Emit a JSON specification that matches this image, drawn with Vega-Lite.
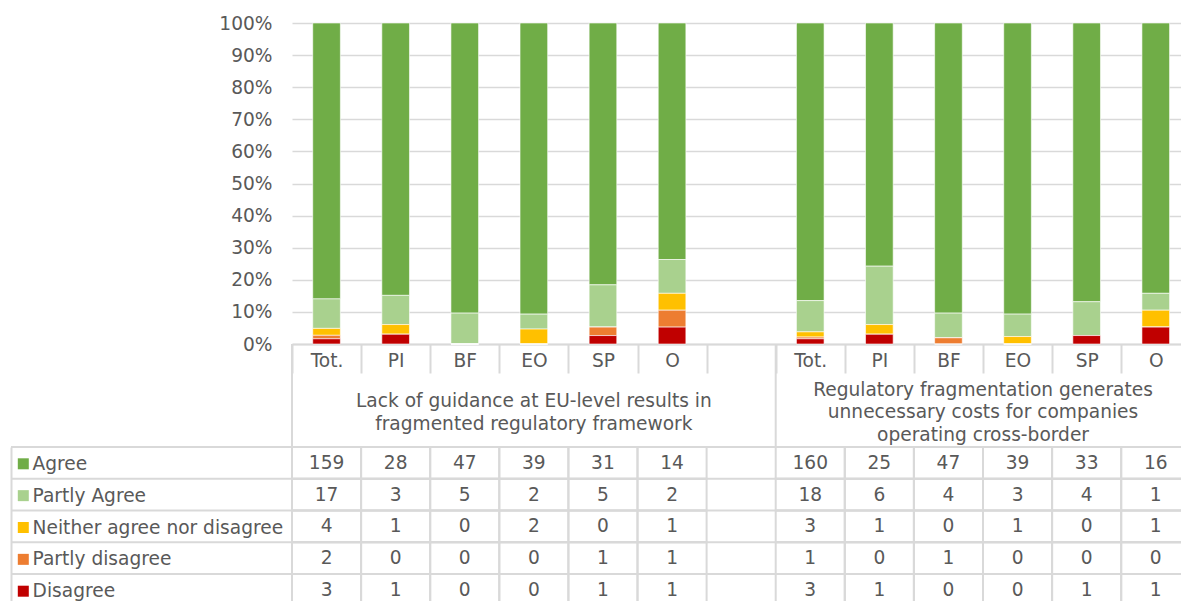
{
  "$schema": "https://vega.github.io/schema/vega-lite/v6.json",
  "width": 1170,
  "height": 578,
  "autosize": {"type": "none"},
  "padding": {"left": 11, "top": 23, "right": 0, "bottom": 0},
  "config": {"view": {"stroke": null}, "font": "DejaVu Sans"},
  "data": {
    "values": [
      {"g": "A", "sub": "Tot.", "Agree": 159, "Partly Agree": 17, "Neither agree nor disagree": 4, "Partly disagree": 2, "Disagree": 3},
      {"g": "A", "sub": "PI", "Agree": 28, "Partly Agree": 3, "Neither agree nor disagree": 1, "Partly disagree": 0, "Disagree": 1},
      {"g": "A", "sub": "BF", "Agree": 47, "Partly Agree": 5, "Neither agree nor disagree": 0, "Partly disagree": 0, "Disagree": 0},
      {"g": "A", "sub": "EO", "Agree": 39, "Partly Agree": 2, "Neither agree nor disagree": 2, "Partly disagree": 0, "Disagree": 0},
      {"g": "A", "sub": "SP", "Agree": 31, "Partly Agree": 5, "Neither agree nor disagree": 0, "Partly disagree": 1, "Disagree": 1},
      {"g": "A", "sub": "O", "Agree": 14, "Partly Agree": 2, "Neither agree nor disagree": 1, "Partly disagree": 1, "Disagree": 1},
      {"g": "B", "sub": "Tot.", "Agree": 160, "Partly Agree": 18, "Neither agree nor disagree": 3, "Partly disagree": 1, "Disagree": 3},
      {"g": "B", "sub": "PI", "Agree": 25, "Partly Agree": 6, "Neither agree nor disagree": 1, "Partly disagree": 0, "Disagree": 1},
      {"g": "B", "sub": "BF", "Agree": 47, "Partly Agree": 4, "Neither agree nor disagree": 0, "Partly disagree": 1, "Disagree": 0},
      {"g": "B", "sub": "EO", "Agree": 39, "Partly Agree": 3, "Neither agree nor disagree": 1, "Partly disagree": 0, "Disagree": 0},
      {"g": "B", "sub": "SP", "Agree": 33, "Partly Agree": 4, "Neither agree nor disagree": 0, "Partly disagree": 0, "Disagree": 1},
      {"g": "B", "sub": "O", "Agree": 16, "Partly Agree": 1, "Neither agree nor disagree": 1, "Partly disagree": 0, "Disagree": 1}
    ]
  },
  "transform": [
    {"fold": ["Agree", "Partly Agree", "Neither agree nor disagree", "Partly disagree", "Disagree"], "as": ["resp", "n"]},
    {"calculate": "datum.g + '|' + datum.sub", "as": "cat"},
    {"calculate": "indexof(['Disagree','Partly disagree','Neither agree nor disagree','Partly Agree','Agree'], datum.resp)", "as": "rank"}
  ],
  "layer": [
    {
      "layer": [
        {
          "mark": {"type": "bar", "width": {"band": 0.4}, "stroke": "white", "strokeWidth": 0.6},
          "encoding": {
            "x": {
              "field": "cat", "type": "nominal",
              "scale": {"domain": ["A|Tot.","A|PI","A|BF","A|EO","A|SP","A|O","gap","B|Tot.","B|PI","B|BF","B|EO","B|SP","B|O"], "range": [281, 1179.3], "paddingInner": 0, "paddingOuter": 0},
              "axis": {
                "orient": "bottom", "offset": -257, "title": null, "grid": false,
                "labelExpr": "isString(datum.value) && datum.value != 'gap' ? substring(datum.value, 2) : ''",
                "tickBand": "extent", "ticks": true, "tickSize": 29, "tickColor": "#d9d9d9", "tickWidth": 2,
                "domain": true, "domainColor": "#d9d9d9", "domainWidth": 2,
                "labelPadding": -21.5, "labelAngle": 0, "labelFont": "DejaVu Sans", "labelFontSize": 18.6, "labelColor": "#595959"
              }
            },
            "y": {
              "field": "n", "type": "quantitative", "stack": "normalize",
              "scale": {"domain": [0, 1], "range": [321, 0], "nice": false},
              "axis": {
                "orient": "left", "offset": -281, "title": null,
                "values": [0, 0.1, 0.2, 0.3, 0.4, 0.5, 0.6, 0.7, 0.8, 0.9, 1],
                "format": ".0%", "domain": false, "ticks": false,
                "grid": true, "gridColor": "#d9d9d9", "gridWidth": 1.5,
                "labelPadding": 20, "labelFont": "DejaVu Sans", "labelFontSize": 18.6, "labelColor": "#595959"
              }
            },
            "color": {
              "field": "resp", "type": "nominal",
              "scale": {
                "domain": ["Agree", "Partly Agree", "Neither agree nor disagree", "Partly disagree", "Disagree"],
                "range": ["#70ad47", "#a9d18e", "#ffc000", "#ed7d31", "#c00000"]
              },
              "legend": {
                "orient": "none", "legendX": 3, "legendY": 431.5, "direction": "vertical", "title": null,
                "symbolType": "square", "symbolSize": 121, "symbolStrokeWidth": 0,
                "labelFont": "DejaVu Sans", "labelFontSize": 18.6, "labelColor": "#595959", "labelLimit": 0,
                "labelOffset": 0, "rowPadding": 12.85, "padding": 0
              }
            },
            "order": {"field": "rank", "type": "quantitative"}
          }
        },
        {
          "transform": [{"filter": "datum.sub == 'Tot.' && datum.resp == 'Agree'"}],
          "mark": {"type": "rule", "color": "#d9d9d9", "strokeWidth": 2},
          "encoding": {
            "x": {"field": "cat", "type": "nominal", "bandPosition": 0,
                  "scale": {"domain": ["A|Tot.","A|PI","A|BF","A|EO","A|SP","A|O","gap","B|Tot.","B|PI","B|BF","B|EO","B|SP","B|O"], "range": [281, 1179.3], "paddingInner": 0, "paddingOuter": 0}},
            "y": {"datum": 0, "type": "quantitative"},
            "y2": {"datum": -0.3209}
          }
        },
        {
          "data": {"values": [{"anchor": "A|EO", "label": "Lack of guidance at EU-level results in\nfragmented regulatory framework"}]},
          "mark": {"type": "text", "fontSize": 18.6, "color": "#595959", "font": "DejaVu Sans", "lineBreak": "\n", "lineHeight": 22.5, "baseline": "middle", "align": "center"},
          "encoding": {
            "x": {"field": "anchor", "type": "nominal",
                  "scale": {"domain": ["A|Tot.","A|PI","A|BF","A|EO","A|SP","A|O","gap","B|Tot.","B|PI","B|BF","B|EO","B|SP","B|O"], "range": [281, 1179.3], "paddingInner": 0, "paddingOuter": 0}},
            "y": {"datum": -0.1776, "type": "quantitative"},
            "text": {"field": "label"}
          }
        },
        {
          "data": {"values": [{"anchor": "B|EO", "label": "Regulatory fragmentation generates\nunnecessary costs for companies\noperating cross-border"}]},
          "mark": {"type": "text", "fontSize": 18.6, "color": "#595959", "font": "DejaVu Sans", "lineBreak": "\n", "lineHeight": 22.5, "baseline": "middle", "align": "center"},
          "encoding": {
            "x": {"field": "anchor", "type": "nominal", "bandPosition": 0,
                  "scale": {"domain": ["A|Tot.","A|PI","A|BF","A|EO","A|SP","A|O","gap","B|Tot.","B|PI","B|BF","B|EO","B|SP","B|O"], "range": [281, 1179.3], "paddingInner": 0, "paddingOuter": 0}},
            "y": {"datum": -0.1433, "type": "quantitative"},
            "text": {"field": "label"}
          }
        }
      ]
    },
    {
      "layer": [
        {
          "mark": {"type": "rect", "fill": "white", "fillOpacity": 0, "stroke": "#d9d9d9", "strokeWidth": 2},
          "encoding": {
            "x": {"field": "cat", "type": "nominal",
                  "scale": {"domain": ["A|Tot.","A|PI","A|BF","A|EO","A|SP","A|O","gap","B|Tot.","B|PI","B|BF","B|EO","B|SP","B|O"], "range": [281, 1179.3], "paddingInner": 0, "paddingOuter": 0}},
            "y": {"field": "resp", "type": "nominal",
                  "scale": {"domain": ["Agree", "Partly Agree", "Neither agree nor disagree", "Partly disagree", "Disagree"], "range": [424, 582.75], "paddingInner": 0, "paddingOuter": 0},
                  "axis": {"orient": "left", "offset": 0, "labels": false, "ticks": false, "grid": false, "title": null, "domain": true, "domainColor": "#d9d9d9", "domainWidth": 2}}
          }
        },
        {
          "transform": [{"filter": "datum.g == 'A' && datum.sub == 'Tot.'"}],
          "mark": {"type": "rule", "color": "#d9d9d9", "strokeWidth": 2},
          "encoding": {
            "y": {"field": "resp", "type": "nominal", "bandPosition": 0,
                  "scale": {"domain": ["Agree", "Partly Agree", "Neither agree nor disagree", "Partly disagree", "Disagree"], "range": [424, 582.75], "paddingInner": 0, "paddingOuter": 0}}
          }
        },
        {
          "mark": {"type": "text", "fontSize": 18.6, "color": "#595959", "font": "DejaVu Sans", "baseline": "middle"},
          "encoding": {
            "x": {"field": "cat", "type": "nominal",
                  "scale": {"domain": ["A|Tot.","A|PI","A|BF","A|EO","A|SP","A|O","gap","B|Tot.","B|PI","B|BF","B|EO","B|SP","B|O"], "range": [281, 1179.3], "paddingInner": 0, "paddingOuter": 0}},
            "y": {"field": "resp", "type": "nominal",
                  "scale": {"domain": ["Agree", "Partly Agree", "Neither agree nor disagree", "Partly disagree", "Disagree"], "range": [424, 582.75], "paddingInner": 0, "paddingOuter": 0}},
            "text": {"field": "n", "type": "quantitative"}
          }
        }
      ]
    }
  ],
  "resolve": {"scale": {"y": "independent"}, "axis": {"y": "independent"}}
}
